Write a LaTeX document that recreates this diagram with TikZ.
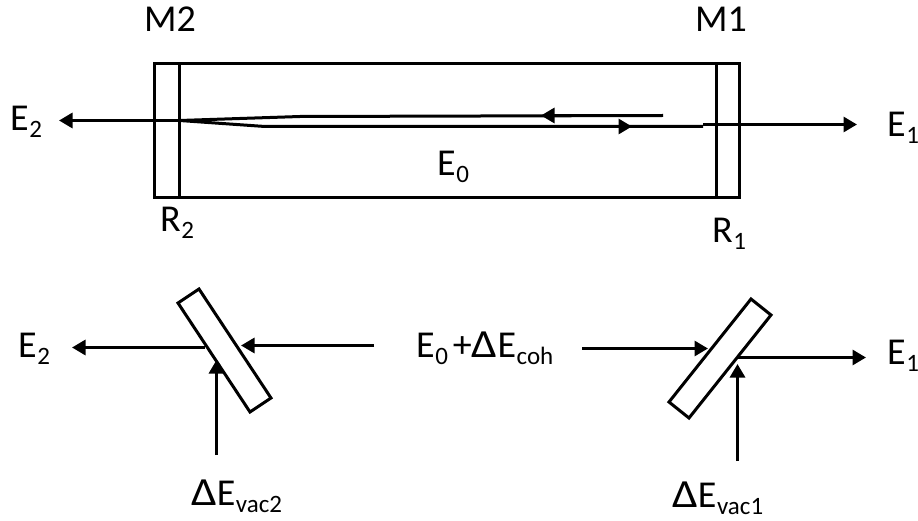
\documentclass[tikz,border=0pt]{standalone}
\usepackage{fontspec}
\usepackage{graphicx}
\setmainfont{Carlito}
\usetikzlibrary{arrows.meta}
\newcommand{\lab}[2]{#1\kern0.5pt\raisebox{-7pt}{\fontsize{25}{25}\selectfont #2}}
\newcommand{\dlt}{\scalebox{1.2}[1.05]{Δ}}
\tikzset{
  line/.style={draw=black,line width=3pt},
  ray/.style={draw=black,line width=3pt,-{Triangle[length=13.5pt,width=15pt]}},
  mirror/.style={draw=black,line width=3pt,fill=white,line join=miter},
  tag/.style={inner sep=0pt,anchor=base west,font=\fontsize{38}{38}\selectfont},
}
\begin{document}
\begin{tikzpicture}[x=1pt,y=-1pt]
\useasboundingbox (0,0) rectangle (918,521);
\fill[white] (0,0) rectangle (918,521);
% cavity
\coordinate (boxTL) at (154.5,63.5);
\coordinate (boxBR) at (739.5,197.5);
\coordinate (r2t) at (179.5,63.5);
\coordinate (r2b) at (179.5,197.5);
\coordinate (r1t) at (716.5,63.5);
\coordinate (r1b) at (716.5,197.5);
\draw[line] (boxTL) rectangle (boxBR);
\draw[line] (r2t) -- (r2b);
\draw[line] (r1t) -- (r1b);
% beams
\coordinate (m2hit) at (179.5,120.5);
\coordinate (e2tip) at (59,120.5);
\coordinate (upEnd) at (663,115.5);
\coordinate (upTip) at (541,115.5);
\coordinate (upMid) at (300,116.5);
\coordinate (lowEnd) at (703,126.5);
\coordinate (lowMid) at (265,126.5);
\coordinate (lowTip) at (632,126.5);
\coordinate (e1start) at (703,124.5);
\coordinate (e1tip) at (857,124.5);
\draw[ray] (m2hit) -- (e2tip);
\draw[line] (upEnd) -- (upMid) -- (m2hit);
\draw[ray] (upEnd) -- (upTip);
\draw[line] (m2hit) -- (lowMid) -- (lowEnd);
\draw[ray] (lowMid) -- (lowTip);
\draw[ray] (e1start) -- (e1tip);
% cavity labels
\node[tag] (m2) at (144,32) {M2};
\node[tag] (m1) at (695,32) {M1};
\node[tag] (e2a) at (10,131) {\lab{E}{2}};
\node[tag] (e1a) at (887,137) {\lab{E}{1}};
\node[tag] (e0a) at (437,176) {\lab{E}{0}};
\node[tag] (r2) at (160,232) {\lab{R}{2}};
\node[tag] (r1) at (712,243) {\lab{R}{1}};
% left mirror
\draw[mirror] (178,303) -- (199,289) -- (271,398) -- (250,412) -- cycle;
\coordinate (l-out) at (205,347.5);
\coordinate (l-e2) at (72,347.5);
\coordinate (l-in) at (374,345.5);
\coordinate (l-intip) at (241,345.5);
\coordinate (l-vac) at (216.5,455);
\coordinate (l-vactip) at (216.5,360);
\draw[ray] (l-out) -- (l-e2);
\draw[ray] (l-in) -- (l-intip);
\draw[ray] (l-vac) -- (l-vactip);
% right mirror
\draw[mirror] (669,402) -- (751,299) -- (771,315) -- (689,418) -- cycle;
\coordinate (r-in) at (582,348.5);
\coordinate (r-intip) at (708,348.5);
\coordinate (r-out) at (738,357.5);
\coordinate (r-e1) at (866,357.5);
\coordinate (r-vac) at (737.5,461);
\coordinate (r-vactip) at (737.5,364);
\draw[ray] (r-in) -- (r-intip);
\draw[ray] (r-out) -- (r-e1);
\draw[ray] (r-vac) -- (r-vactip);
% lower labels
\node[tag] (e2b) at (18,357) {\lab{E}{2}};
\node[tag] (e1b) at (887,364) {\lab{E}{1}};
\node[tag] (sum) at (416,357) {\lab{E}{0}\kern5pt+\dlt\lab{E}{coh}};
\node[tag] (vac2) at (191,505) {\dlt\lab{E}{vac2}};
\node[tag] (vac1) at (672,507) {\dlt\lab{E}{vac1}};
\end{tikzpicture}
\end{document}
